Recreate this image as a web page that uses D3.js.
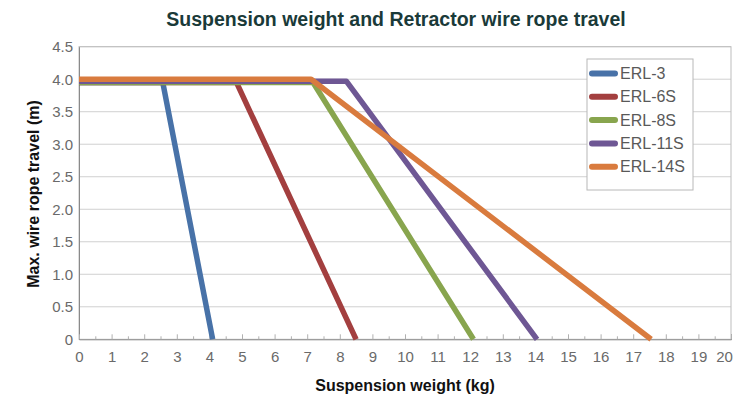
<!DOCTYPE html>
<html>
<head>
<meta charset="utf-8">
<script src="https://cdn.jsdelivr.net/npm/d3@7"></script>
<style>
  body { margin: 0; background: #fff; }
  svg { display: block; }
</style>
</head>
<body>
<svg id="chart" width="734" height="397"></svg>
<script>
const seriesNames = ["ERL-3", "ERL-6S", "ERL-8S", "ERL-11S", "ERL-14S"];
const seriesColors = ["#4872a8", "#a33f3f", "#88a54e", "#6e5794", "#d97b3e"];
const erl3 = [[0, 3.95], [2.57, 3.95], [4.1, 0]];
const erl6s = [[0, 3.95], [4.83, 3.95], [8.5, 0]];
const erl8s = [[0, 3.95], [7.18, 3.95], [12.1, 0]];
const erl11s = [[0, 3.97], [8.2, 3.97], [14.05, 0]];
const erl14s = [[0, 4.0], [7.12, 4.0], [17.55, 0]];
const seriesValues = [erl3, erl6s, erl8s, erl11s, erl14s];
const xTicks = d3.range(0, 21, 1);
const yTicks = [0, 0.5, 1.0, 1.5, 2.0, 2.5, 3.0, 3.5, 4.0, 4.5];

const svg = d3.select("#chart");
const x = d3.scaleLinear().domain([0, 20]).range([79, 731]);
const y = d3.scaleLinear().domain([0, 4.5]).range([339.3, 46.7]);

const labelFont = "'Liberation Sans Narrow', 'Arial Narrow', 'Liberation Sans', sans-serif";
const boldFont = "'Liberation Sans', Arial, sans-serif";

// title
svg.append("text")
  .attr("x", 396).attr("y", 26)
  .attr("text-anchor", "middle")
  .attr("font-family", boldFont)
  .attr("font-weight", "bold")
  .attr("font-size", 19.5)
  .attr("fill", "#1a3a39")
  .text("Suspension weight and Retractor wire rope travel");

// grid lines
svg.append("g").selectAll("line")
  .data(yTicks.filter(d => d > 0))
  .join("line")
  .attr("x1", x(0)).attr("x2", x(20))
  .attr("y1", d => y(d)).attr("y2", d => y(d))
  .attr("stroke", "#d0d0d0").attr("stroke-width", 1);

// plot border
svg.append("rect")
  .attr("x", x(0)).attr("y", y(4.5))
  .attr("width", x(20) - x(0)).attr("height", y(0) - y(4.5))
  .attr("fill", "none").attr("stroke", "#bdbdbd").attr("stroke-width", 1);

// y axis
const yAxis = d3.axisLeft(y).tickValues(yTicks).tickSize(0).tickPadding(6)
  .tickFormat(d => d === 0 ? "0" : d3.format(".1f")(d));
const gy = svg.append("g").attr("transform", `translate(${x(0)},0)`).call(yAxis);
gy.select(".domain").attr("stroke", "#8a8a8a");
gy.selectAll("text").attr("font-family", labelFont).attr("font-size", 15).attr("fill", "#6a6a6a");

// x axis
const xAxis = d3.axisBottom(x).tickValues(xTicks).tickSize(-5).tickPadding(12).tickFormat(d3.format("d"));
const gx = svg.append("g").attr("transform", `translate(0,${y(0)})`).call(xAxis);
gx.select(".domain").attr("stroke", "#8a8a8a");
gx.selectAll(".tick line").attr("stroke", "#b0b0b0");
gx.selectAll("text").attr("font-family", labelFont).attr("font-size", 15).attr("fill", "#6a6a6a");
gx.selectAll(".tick text").filter(d => d === 20).attr("dx", -7);
// minor ticks
const gxm = svg.append("g").attr("transform", `translate(0,${y(0)})`)
  .call(d3.axisBottom(x).tickValues(d3.range(0.5, 20, 1)).tickSize(-3).tickFormat(""));
gxm.select(".domain").remove();
gxm.selectAll(".tick line").attr("stroke", "#b0b0b0");

// axis titles
svg.append("text")
  .attr("x", 405).attr("y", 391)
  .attr("text-anchor", "middle")
  .attr("font-family", boldFont)
  .attr("font-weight", "bold").attr("font-size", 16).attr("fill", "#111")
  .text("Suspension weight (kg)");
svg.append("text")
  .attr("transform", `translate(39,${194}) rotate(-90)`)
  .attr("text-anchor", "middle")
  .attr("font-family", boldFont)
  .attr("font-weight", "bold").attr("font-size", 16).attr("fill", "#111")
  .text("Max. wire rope travel (m)");

// lines
const line = d3.line().x(d => x(d[0])).y(d => y(d[1]));
svg.append("g").selectAll("path")
  .data(seriesValues)
  .join("path")
  .attr("d", line)
  .attr("fill", "none")
  .attr("stroke", (d, i) => seriesColors[i])
  .attr("stroke-width", 5.5)
  .attr("stroke-linejoin", "round");

// legend
const lg = svg.append("g");
lg.append("rect")
  .attr("x", 587).attr("y", 59).attr("width", 106).attr("height", 131)
  .attr("fill", "#fff").attr("stroke", "#b8b8b8").attr("stroke-width", 1);
seriesNames.forEach((name, i) => {
  const cy = 73.5 + i * 23.3;
  lg.append("line")
    .attr("x1", 592).attr("x2", 615).attr("y1", cy).attr("y2", cy)
    .attr("stroke", seriesColors[i]).attr("stroke-width", 6).attr("stroke-linecap", "round");
  lg.append("text")
    .attr("x", 620).attr("y", cy + 5.5)
    .attr("font-family", labelFont).attr("font-size", 16).attr("fill", "#595959")
    .text(name);
});
</script>
</body>
</html>
